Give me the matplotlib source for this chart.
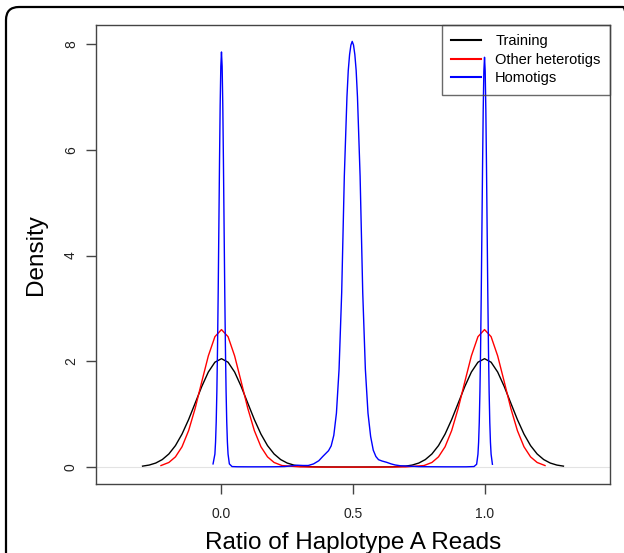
import matplotlib
matplotlib.use("Agg")
import matplotlib.pyplot as plt
from matplotlib.patches import FancyBboxPatch
from matplotlib.transforms import IdentityTransform

plt.rcParams['font.family'] = ['Liberation Sans', 'DejaVu Sans']

# density curves
black_x = [-0.30, -0.275, -0.25, -0.225, -0.20, -0.175, -0.15, -0.125, -0.10, -0.075, -0.05, -0.025,
           0.0, 0.025, 0.05, 0.075, 0.10, 0.125, 0.15, 0.175, 0.20, 0.225, 0.25, 0.275, 0.30,
           0.35, 0.40, 0.50, 0.60, 0.65,
           0.70, 0.725, 0.75, 0.775, 0.80, 0.825, 0.85, 0.875, 0.90, 0.925, 0.95, 0.975,
           1.0, 1.025, 1.05, 1.075, 1.10, 1.125, 1.15, 1.175, 1.20, 1.225, 1.25, 1.275, 1.30]
black_y = [0.018, 0.038, 0.076, 0.142, 0.248, 0.406, 0.624, 0.898, 1.209, 1.523, 1.797, 1.983,
           2.05, 1.983, 1.797, 1.523, 1.209, 0.898, 0.624, 0.406, 0.248, 0.142, 0.076, 0.038, 0.018,
           0.005, 0.002, 0.001, 0.002, 0.005,
           0.018, 0.038, 0.076, 0.142, 0.248, 0.406, 0.624, 0.898, 1.209, 1.523, 1.797, 1.983,
           2.05, 1.983, 1.797, 1.523, 1.209, 0.898, 0.624, 0.406, 0.248, 0.142, 0.076, 0.038, 0.018]

red_x = [-0.23, -0.20, -0.175, -0.15, -0.125, -0.10, -0.075, -0.05, -0.025,
         0.0, 0.025, 0.05, 0.075, 0.10, 0.125, 0.15, 0.175, 0.20, 0.23,
         0.30, 0.40, 0.50, 0.60, 0.70,
         0.77, 0.80, 0.825, 0.85, 0.875, 0.90, 0.925, 0.95, 0.975,
         1.0, 1.025, 1.05, 1.075, 1.10, 1.125, 1.15, 1.175, 1.20, 1.23]
red_y = [0.029, 0.087, 0.193, 0.384, 0.689, 1.111, 1.612, 2.102, 2.466,
         2.60, 2.466, 2.102, 1.612, 1.111, 0.689, 0.384, 0.193, 0.087, 0.029,
         0.003, 0.0, 0.0, 0.0, 0.003,
         0.029, 0.087, 0.193, 0.384, 0.689, 1.111, 1.612, 2.102, 2.466,
         2.60, 2.466, 2.102, 1.612, 1.111, 0.689, 0.384, 0.193, 0.087, 0.029]

blue_x = [-0.032, -0.025, -0.0225, -0.02, -0.0175, -0.015, -0.0125, -0.01, -0.0075, -0.005, -0.0025,
          0.0, 0.0025, 0.005, 0.0075, 0.01, 0.0125, 0.015, 0.0175, 0.02, 0.0225, 0.025, 0.03, 0.04,
          0.06, 0.10, 0.15, 0.20, 0.24, 0.27, 0.29, 0.31, 0.33, 0.35, 0.37, 0.385, 0.397, 0.407,
          0.417, 0.427, 0.437, 0.447, 0.457, 0.467, 0.477, 0.482, 0.487, 0.492, 0.497, 0.502,
          0.507, 0.512, 0.517, 0.527, 0.537, 0.547, 0.557, 0.567, 0.577, 0.587, 0.597, 0.61,
          0.628, 0.645, 0.66, 0.68, 0.70,
          0.75, 0.85, 0.93, 0.96, 0.97, 0.975, 0.9775, 0.98, 0.9825, 0.985, 0.9875, 0.99, 0.9925,
          0.995, 0.9975, 1.0, 1.0025, 1.005, 1.0075, 1.01, 1.0125, 1.015, 1.0175, 1.02, 1.0225,
          1.025, 1.03]
blue_y = [0.06, 0.246, 0.475, 0.857, 1.44, 2.26, 3.30, 4.51, 5.75, 6.84, 7.58,
          7.85, 7.58, 6.84, 5.75, 4.51, 3.30, 2.26, 1.44, 0.857, 0.475, 0.246, 0.06, 0.01,
          0.006, 0.005, 0.005, 0.006, 0.01, 0.025, 0.035, 0.03, 0.03, 0.06, 0.12, 0.20, 0.26, 0.31,
          0.40, 0.60, 1.02, 1.85, 3.3, 5.5, 7.0, 7.5, 7.8, 7.98, 8.05, 7.98,
          7.8, 7.5, 7.0, 5.5, 3.3, 1.85, 1.02, 0.58, 0.32, 0.20, 0.14, 0.115,
          0.09, 0.06, 0.04, 0.025, 0.02,
          0.008, 0.005, 0.005, 0.01, 0.053, 0.243, 0.469, 0.845, 1.42, 2.22, 3.26, 4.46, 5.68,
          6.75, 7.49, 7.75, 7.49, 6.75, 5.68, 4.46, 3.26, 2.22, 1.42, 0.845, 0.469,
          0.243, 0.053]

series_names = ['Training', 'Other heterotigs', 'Homotigs']
series_colors = ['black', 'red', 'blue']
x_ticks = [0.0, 0.5, 1.0]
y_ticks = [0, 2, 4, 6, 8]

fig = plt.figure(figsize=(6.24, 5.53), dpi=100)
ax = fig.add_axes([96/624, 1 - 484/553, 514/624, 459/553])

ax.axhline(0, color='#e3e3e3', lw=0.8, zorder=1)
ax.plot(black_x, black_y, color=series_colors[0], lw=1.0, zorder=2)
ax.plot(red_x, red_y, color=series_colors[1], lw=1.0, zorder=3)
ax.plot(blue_x, blue_y, color=series_colors[2], lw=1.0, zorder=4)

ax.set_xlim(-0.477, 1.477)
ax.set_ylim(-0.32, 8.36)
ax.set_xticks(x_ticks)
ax.set_xticklabels(['%.1f' % v for v in x_ticks])
ax.set_yticks(y_ticks)
ax.set_yticklabels([str(v) for v in y_ticks], rotation=90, va='center')

for s in ax.spines.values():
    s.set_color('#444444')
    s.set_linewidth(1.0)
ax.tick_params(axis='both', length=7, width=1.0, color='#444444', labelsize=10, labelcolor='#222222')
ax.tick_params(axis='x', pad=9.5)
ax.tick_params(axis='y', pad=6)

ax.set_xlabel('Ratio of Haplotype A Reads', fontsize=17.5)
ax.set_ylabel('Density', fontsize=17.5)
ax.xaxis.set_label_coords(0.5, -0.105)
ax.yaxis.set_label_coords(-0.095, 0.5)

handles = [plt.Line2D([], [], color=c, lw=1.5) for c in series_colors]
leg = ax.legend(handles, series_names, loc='upper right', bbox_to_anchor=(1, 1),
                borderaxespad=0, fontsize=10.5, frameon=True, fancybox=False,
                handlelength=2.0, handletextpad=1.0, labelspacing=0.3, borderpad=0.65)
leg.get_frame().set_facecolor('none')
leg.get_frame().set_edgecolor('#444444')
leg.get_frame().set_linewidth(1.0)

# rounded outer frame, cut off at right and bottom
frame = FancyBboxPatch((6, -30), 630, 553 - 7 + 30, boxstyle='round,pad=0,rounding_size=13',
                       transform=IdentityTransform(), fill=False, edgecolor='black', lw=1.6)
fig.add_artist(frame)

fig.savefig('out.png', dpi=100)
